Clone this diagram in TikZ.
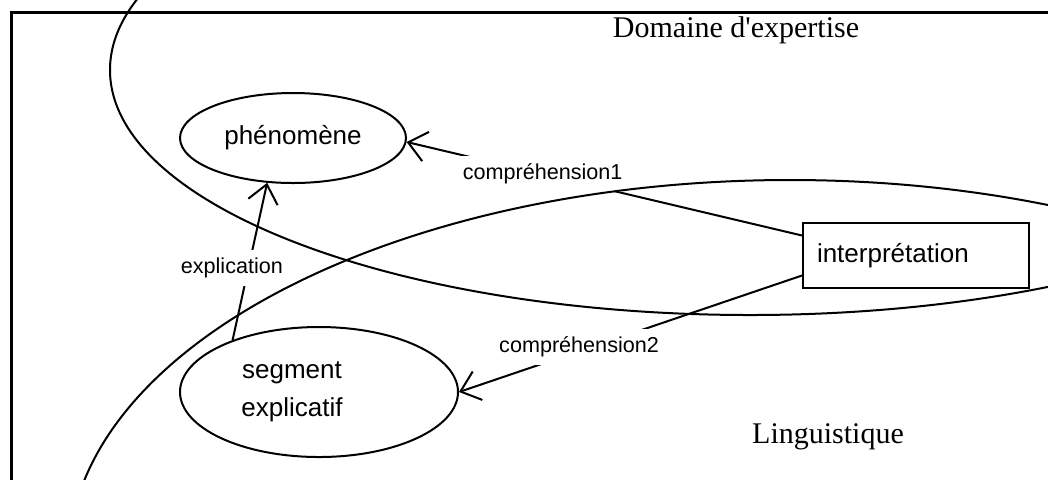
\documentclass[tikz,border=0pt]{standalone}
\usepackage{fontspec}
\setmainfont{Liberation Serif}
\newfontfamily\arialfont{Liberation Sans}
\usetikzlibrary{arrows.meta,shapes.geometric}
\tikzset{
	zone/.style={line width=1pt},
	concept/.style={draw,ellipse,line width=1pt,inner sep=0pt,align=center,font=\arialfont\fontsize{13}{19}\selectfont},
	relation/.style={line width=1pt,-{Straight Barb[length=9pt,width=15pt]}},
	lbl/.style={fill=white,inner xsep=2.5pt,inner ysep=4pt,font=\arialfont\fontsize{10.8}{13}\selectfont},
	zonelabel/.style={font=\fontsize{15}{18}\selectfont}
}
\begin{document}
\begin{tikzpicture}[x=0.5pt,y=-0.5pt]
	\clip (0,0) rectangle (1048,479);
	\draw[line width=1.5pt] (11,490) -- (11,12) -- (1060,12);
	\node[zonelabel] (expertise) at (736,30) {Domaine d\textquotesingle expertise};
	\node[zonelabel] (linguistique) at (828,437) {Linguistique};
	\node[concept,minimum width=113pt,minimum height=45pt] (phen) at (293,138) {phénomène};
	\node[concept,minimum width=139pt,minimum height=65pt] (seg) at (319,392) {segment\kern27pt\\explicatif\kern27pt};
	\node[draw,line width=1pt,minimum height=32.5pt,text width=99pt,inner xsep=7pt,align=left,font=\arialfont\fontsize{13}{19}\selectfont] (interp) at (916,255.5) {interprétation};
	\draw[relation] (seg.149) -- node[lbl,pos=0.46,xshift=-8.3pt] {explication} (phen.240);
	\draw[relation] ([yshift=10pt]interp.west) -- node[lbl,pos=0.656] {compréhension1} (phen.-2);
	\draw[relation] ([yshift=-10pt]interp.west) -- node[lbl,pos=0.65,yshift=2pt] {compréhension2} (seg.east);
	\draw[zone] (750,70) ellipse [x radius=640, y radius=245];
	\draw[zone] (790,560) ellipse [x radius=721.6, y radius=380];
\end{tikzpicture}
\end{document}
